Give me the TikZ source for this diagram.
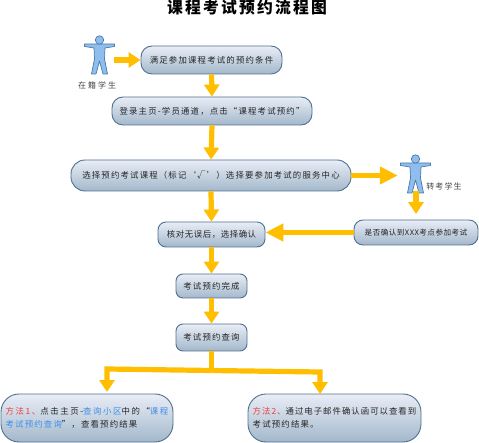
\documentclass[tikz,border=0pt]{standalone}
\usepackage{fontspec}
\setmainfont{Noto Sans CJK SC}[LetterSpace=14]
\usetikzlibrary{arrows.meta}
\definecolor{flow}{HTML}{FFBF00}
\definecolor{edge}{HTML}{4F7090}
\definecolor{boxtop}{HTML}{E9EDF6}
\definecolor{boxbot}{HTML}{A3B8CB}
\definecolor{bodyfill}{HTML}{8FBDEE}
\definecolor{bodyline}{HTML}{4A7CA8}
\definecolor{redtxt}{HTML}{F03C3C}
\definecolor{bluetxt}{HTML}{3F8FE8}
\definecolor{graytxt}{HTML}{444444}
\tikzset{
  flowbox/.style={draw=edge,line width=0.9pt,top color=boxtop,bottom color=boxbot,rounded corners=#1,inner sep=0pt,font=\fontsize{8.4}{12.5}\selectfont,text=black!85},
  flowbox/.default=9pt,
  conn/.style={draw=flow,line width=5.2pt,-{Triangle[width=15pt,length=12pt]}},
  bigconn/.style={draw=flow,line width=5.5pt,-{Triangle[width=17pt,length=18pt]}},
  plain/.style={draw=flow,line width=5.2pt},
  tag/.style={text=graytxt,inner sep=0pt,font=\fontsize{8}{10}\selectfont},
  anchorbox/.style={inner sep=0pt,minimum width=36pt,minimum height=36pt},
  person/.style={fill=bodyfill,draw=bodyline,line width=0.7pt,line join=round}
}
\newcommand{\personfig}[2]{%
  \begin{scope}[shift={(#1,#2)}]
    \path[person] (-15,-2) -- (15,-2) -- (15,0.5) -- (5.5,2) -- (5,13) -- (8,28) -- (3.5,28) -- (0,15) -- (-3.5,28) -- (-8,28) -- (-5,13) -- (-5.5,2) -- (-15,0.5) -- cycle;
    \path[person] (0,-6) circle (4.2);
  \end{scope}}
\begin{document}
\begin{tikzpicture}[x=1pt,y=-1pt]
\useasboundingbox (0,0) rectangle (479,443);
\node[inner sep=0pt,font=\fontsize{15.8}{18}\selectfont\bfseries,text=black] (title) at (247,8) {课程考试预约流程图};
\personfig{99.5}{46}
\personfig{415.5}{165}
\node[anchorbox] (p1) at (96,60) {};
\node[anchorbox] (p2) at (416,173) {};
\node[tag] (l1) at (97,85) {\addfontfeature{LetterSpace=25}在籍学生};
\node[tag] (l2) at (444,186) {转考学生};
\node[flowbox=11pt,minimum width=141pt,minimum height=28pt] (b1) at (211.5,60) {满足参加课程考试的预约条件};
\node[flowbox=11pt,minimum width=200pt,minimum height=28pt] (b2) at (212,111) {登录主页-学员通道，点击“课程考试预约”};
\node[flowbox=14pt,minimum width=280pt,minimum height=31pt] (b3) at (211,175.5) {选择预约考试课程（标记‘√’）选择要参加考试的服务中心};
\node[flowbox=8pt,minimum width=107pt,minimum height=25pt] (b4) at (211.5,234.5) {\addfontfeature{LetterSpace=7}核对无误后，选择确认};
\node[flowbox=9pt,minimum width=124pt,minimum height=25pt] (b5) at (416,232.5) {\fontsize{7.6}{10}\selectfont\addfontfeature{LetterSpace=6}是否确认到XXX考点参加考试};
\node[flowbox=7pt,minimum width=71pt,minimum height=24pt] (b6) at (211.5,286) {考试预约完成};
\node[flowbox=7pt,minimum width=71pt,minimum height=27pt] (b7) at (211.5,337.5) {考试预约查询};
\node[flowbox=18pt,minimum width=172pt,minimum height=48pt,align=left] (b8) at (87,418) {\addfontfeature{LetterSpace=19}\textcolor{redtxt}{方法1、}点击主页-\textcolor{bluetxt}{查询小区}中的“\textcolor{bluetxt}{课程}\\\textcolor{bluetxt}{考试预约查询}”，查看预约结果};
\node[flowbox=18pt,minimum width=173pt,minimum height=48pt,align=left] (b9) at (334.5,418) {\addfontfeature{LetterSpace=12}\textcolor{redtxt}{方法2、}通过电子邮件确认函可以查看到\\考试预约结果。};
\coordinate (j) at (211.5,370.5);
\coordinate (jl) at (107,369);
\coordinate (jr) at (320,372);
\coordinate (tl) at (107,392);
\coordinate (tr) at (320,394);
\coordinate (t2) at (416,214);
\draw[conn] (p1.east) -- (b1.west);
\draw[conn] (b1.south) -- (b2.north);
\draw[conn] (b2.south) -- (b3.north);
\draw[bigconn] (b3.east) -- (b3.east -| p2.west);
\draw[conn] (b3.south) -- (b4.north);
\draw[conn] (p2.south) -- (t2);
\draw[bigconn] (b5.west) -- (b5.west -| b4.east);
\draw[conn] (b4.south) -- (b6.north);
\draw[conn] (b6.south) -- (b7.north);
\draw[plain] (b7.south) -- (j);
\draw[conn] (j) -- (jl) -- (tl);
\draw[conn] (j) -- (jr) -- (tr);
\end{tikzpicture}
\end{document}
